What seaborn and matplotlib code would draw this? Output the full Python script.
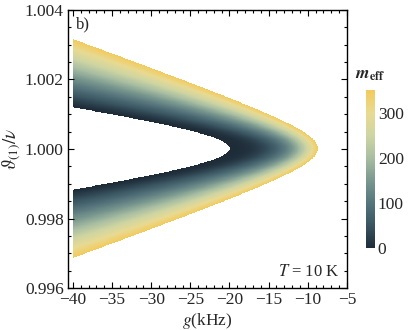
import numpy as np
import matplotlib
matplotlib.use("Agg")
import matplotlib.pyplot as plt
import seaborn as sns
from matplotlib.ticker import MultipleLocator, FormatStrFormatter

# values
G_RANGE = [-40.0, -5.0]            # coupling g (kHz) covered by the data
VERTEX_G = [20.0, 8.7]             # |g| of the band tip: inner edge (m=0), outer edge (m=max)
OFFSET_AT_40 = [0.00118, 0.00314]  # |ratio - 1| at g=-40: inner edge, outer edge
M_RANGE = [0, 350]                 # m_eff from inner to outer edge
CBAR_TICKS = [0, 100, 200, 300]
X_TICKS = [-40, -35, -30, -25, -20, -15, -10, -5]
Y_TICKS = [0.996, 0.998, 1.000, 1.002, 1.004]

# colour stops of the colour scale at m = 0, 50, ..., 350
SCALE_COLORS = ["#1e2c38", "#395561", "#56757c", "#7a988f",
                "#a8bea2", "#cfd5a2", "#e8da93", "#f3cb5c"]

sns.set_style("ticks")
plt.rcParams["font.family"] = ["Liberation Serif", "DejaVu Serif"]
plt.rcParams["mathtext.fontset"] = "stix"

cmap = sns.blend_palette(SCALE_COLORS, as_cmap=True)

# build the m_eff field from nested hyperbolic contours between the two edges
g = np.linspace(G_RANGE[0], G_RANGE[1], 700)
d = np.linspace(-0.004, 0.004, 800)
G, D = np.meshgrid(g, d)

k_in = OFFSET_AT_40[0] / np.sqrt(40.0**2 - VERTEX_G[0]**2)
k_out = OFFSET_AT_40[1] / np.sqrt(40.0**2 - VERTEX_G[1]**2)

m_levels = np.linspace(M_RANGE[0], M_RANGE[1], 351)
t = (m_levels - M_RANGE[0]) / (M_RANGE[1] - M_RANGE[0])
g0 = VERTEX_G[0] + (VERTEX_G[1] - VERTEX_G[0]) * t**0.4
kk = k_in + (k_out - k_in) * t

field = np.full(G.shape, np.nan)
for m_val, g0_i, k_i in zip(m_levels, g0, kk):
    lim = k_i * np.sqrt(np.clip(G**2 - g0_i**2, 0, None))
    inside = (np.abs(D) < lim) & np.isnan(field)
    field[inside] = m_val
field[field == M_RANGE[0]] = np.nan

fig = plt.figure(figsize=(4.09, 3.30), dpi=100)
ax = fig.add_axes([0.166, 0.127, 0.682, 0.843])

im = ax.imshow(field, extent=[g[0], g[-1], 1 + d[0], 1 + d[-1]], origin="lower",
               aspect="auto", cmap=cmap, vmin=M_RANGE[0], vmax=M_RANGE[1],
               interpolation="nearest")

ax.set_xlim(-40.65, -5)
ax.set_ylim(0.996, 1.004)
ax.set_xticks(X_TICKS)
ax.set_yticks(Y_TICKS)
ax.xaxis.set_minor_locator(MultipleLocator(1))
ax.yaxis.set_minor_locator(MultipleLocator(0.0005))
ax.yaxis.set_major_formatter(FormatStrFormatter("%.3f"))
ax.tick_params(which="both", direction="in", top=True, right=True, labelsize=12.5,
               color="black", width=0.8, pad=3)
ax.tick_params(which="major", length=4)
ax.tick_params(which="minor", length=2)
for sp in ax.spines.values():
    sp.set_linewidth(1.0)
    sp.set_color("black")

ax.set_xlabel(r"$g$(kHz)", fontsize=12.5, labelpad=2)
ax.set_ylabel(r"$\vartheta_{(1)}/\nu$", fontsize=13.5, labelpad=1)

ax.text(0.028, 0.975, "b)", transform=ax.transAxes, fontsize=12, va="top", ha="left")
ax.text(0.975, 0.03, r"$T$ = 10 K", transform=ax.transAxes, fontsize=12,
        va="bottom", ha="right")

cax = fig.add_axes([0.895, 0.248, 0.022, 0.479])
cb = fig.colorbar(im, cax=cax)
cb.outline.set_visible(False)
cb.set_ticks(CBAR_TICKS)
cax.tick_params(length=0, labelsize=12.5, pad=2)
cax.set_title(r"$\mathbfit{m}_{\mathbf{eff}}$", fontsize=12.5, pad=8)

fig.savefig("out.png", dpi=100)
